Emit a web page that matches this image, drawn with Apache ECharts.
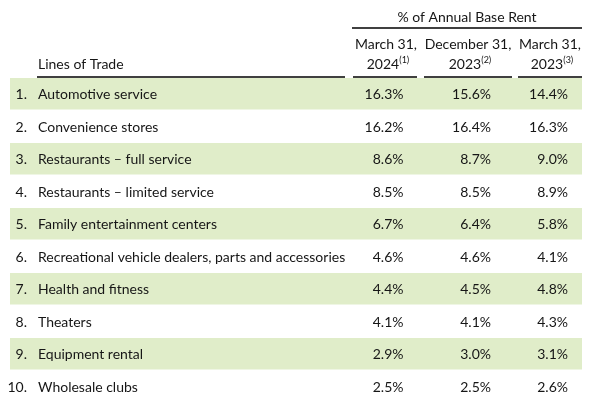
<!DOCTYPE html>
<html>
<head>
<meta charset="utf-8">
<script src="https://cdn.jsdelivr.net/npm/echarts@6/dist/echarts.min.js"></script>
<style>html,body{margin:0;padding:0;background:#fff;}#c{width:590px;height:403px;}</style>
</head>
<body>
<div id="c"></div>
<script>
const ranks = ['1.','2.','3.','4.','5.','6.','7.','8.','9.','10.'];
const linesOfTrade = [
  'Automotive service',
  'Convenience stores',
  'Restaurants \u2013 full service',
  'Restaurants \u2013 limited service',
  'Family entertainment centers',
  'Recreational vehicle dealers, parts and accessories',
  'Health and fitness',
  'Theaters',
  'Equipment rental',
  'Wholesale clubs'
];
const march2024 = [16.3, 16.2, 8.6, 8.5, 6.7, 4.6, 4.4, 4.1, 2.9, 2.5];
const december2023 = [15.6, 16.4, 8.7, 8.5, 6.4, 4.6, 4.5, 4.1, 3.0, 2.5];
const march2023 = [14.4, 16.3, 9.0, 8.9, 5.8, 4.1, 4.8, 4.3, 3.1, 2.6];
const groupTitle = '% of Annual Base Rent';
const colHeads = [['March 31,', '2024', '(1)'], ['December 31,', '2023', '(2)'], ['March 31,', '2023', '(3)']];
const firstHead = 'Lines of Trade';

const FONT = 'Lato';
const FS = 14;
const TXT = '#161616';
const BAND = '#E0EDC9';

const chart = echarts.init(document.getElementById('c'), null, {renderer: 'canvas'});

const valueCols = [403.5, 491, 568];
const heads = colHeads.map((h, k) => {
  const cx = [386, 468, 550][k];
  return [
    {type: 'text', x: cx, y: 44, style: {text: h[0], align: 'center', verticalAlign: 'middle', font: FS + 'px ' + FONT, fill: TXT}},
    {type: 'text', x: cx + 2, y: 64, style: {text: h[1] + '{s|' + h[2] + '}', align: 'center', verticalAlign: 'middle', font: FS + 'px ' + FONT, fill: TXT,
      rich: {s: {fontSize: 9, fontFamily: FONT, fill: TXT, verticalAlign: 'top', padding: [0, 0, 7, 0]}}}}
  ];
}).flat();

const lineSegs = [[37, 345], [353, 417], [424, 512], [518, 582]];

const option = {
  animation: false,
  grid: {left: 0, right: 0, top: 78, height: 325},
  xAxis: {type: 'value', min: 0, max: 590, show: false},
  yAxis: {type: 'category', data: ranks, inverse: true, show: false},
  graphic: [
    {type: 'text', x: 467, y: 17, style: {text: groupTitle, align: 'center', verticalAlign: 'middle', font: FS + 'px ' + FONT, fill: TXT}},
    {type: 'line', shape: {x1: 352, y1: 28, x2: 582, y2: 28}, style: {stroke: '#000', lineWidth: 1.3}},
    {type: 'text', x: 38, y: 64, style: {text: firstHead, align: 'left', verticalAlign: 'middle', font: FS + 'px ' + FONT, fill: TXT}},
    ...heads,
    ...lineSegs.map(s => ({type: 'line', shape: {x1: s[0], y1: 77, x2: s[1], y2: 77}, style: {stroke: '#000', lineWidth: 1.3}}))
  ],
  series: [{
    type: 'custom',
    coordinateSystem: 'cartesian2d',
    encode: {y: 0},
    data: ranks.map((r, i) => [i, march2024[i], december2023[i], march2023[i]]),
    renderItem: function (params, api) {
      const i = api.value(0);
      const c = api.coord([0, i]);
      const h = api.size([0, 1])[1];
      const cy = c[1] + 0.5;
      const x0 = api.coord([10, i])[0];
      const x1 = api.coord([582, i])[0];
      const children = [];
      if (i % 2 === 0) {
        children.push({type: 'rect', shape: {x: x0, y: c[1] - h / 2, width: x1 - x0, height: h - 1}, style: {fill: BAND}});
      }
      const font = FS + 'px ' + FONT;
      children.push({type: 'text', style: {text: ranks[i], x: api.coord([27, i])[0], y: cy, align: 'right', verticalAlign: 'middle', font: font, fill: TXT}});
      children.push({type: 'text', style: {text: linesOfTrade[i], x: api.coord([38, i])[0], y: cy, align: 'left', verticalAlign: 'middle', font: font, fill: TXT}});
      [1, 2, 3].forEach((d, k) => {
        children.push({type: 'text', style: {text: api.value(d).toFixed(1) + '%', x: api.coord([valueCols[k], i])[0], y: cy, align: 'right', verticalAlign: 'middle', font: font, fill: TXT}});
      });
      return {type: 'group', children: children};
    }
  }]
};
chart.setOption(option);
</script>
</body>
</html>
